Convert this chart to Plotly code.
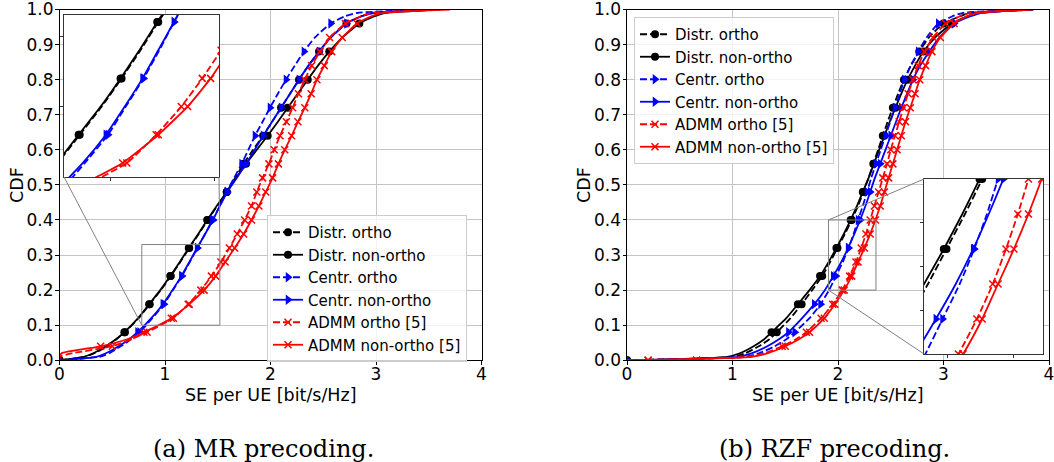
import plotly.graph_objects as go

W, H = 1054, 462

# ---------------- data ----------------
Y_LEVELS = [0, 0.01, 0.02, 0.04, 0.06, 0.08, 0.12, 0.16, 0.20, 0.24, 0.28, 0.32, 0.36, 0.40,
            0.44, 0.48, 0.52, 0.56, 0.60, 0.64, 0.68, 0.72, 0.76, 0.80, 0.84, 0.88, 0.92,
            0.96, 0.98, 0.99, 1.0]

SERIES_NAMES = ["Distr. ortho", "Distr. non-ortho", "Centr. ortho", "Centr. non-ortho",
                "ADMM ortho [5]", "ADMM non-ortho [5]"]

# (a) MR precoding: SE values at each CDF level
MR_DISTR_ORTHO = [0.0, 0.24, 0.33, 0.45, 0.54, 0.62, 0.75, 0.855, 0.96, 1.055, 1.145, 1.23, 1.32,
                  1.405, 1.495, 1.585, 1.665, 1.745, 1.835, 1.93, 2.015, 2.10, 2.185, 2.27, 2.36,
                  2.46, 2.57, 2.72, 2.85, 2.97, 3.6]
MR_DISTR_NONORTHO = [0.0, 0.23, 0.32, 0.44, 0.535, 0.615, 0.745, 0.85, 0.955, 1.05, 1.14, 1.225,
                     1.315, 1.40, 1.49, 1.585, 1.675, 1.768, 1.87, 1.973, 2.07, 2.163, 2.258,
                     2.353, 2.45, 2.557, 2.68, 2.842, 2.98, 3.08, 3.6]
MR_CENTR_ORTHO = [0.0, 0.38, 0.47, 0.58, 0.68, 0.76, 0.88, 0.99, 1.075, 1.16, 1.235, 1.305, 1.38,
                  1.45, 1.52, 1.585, 1.655, 1.727, 1.79, 1.853, 1.925, 1.995, 2.07, 2.147, 2.23,
                  2.317, 2.42, 2.57, 2.70, 2.82, 3.5]
MR_CENTR_NONORTHO = [0.0, 0.35, 0.44, 0.56, 0.66, 0.74, 0.87, 0.98, 1.07, 1.155, 1.23, 1.305, 1.38,
                     1.455, 1.52, 1.59, 1.68, 1.768, 1.85, 1.93, 2.015, 2.10, 2.185, 2.27, 2.36,
                     2.46, 2.57, 2.72, 2.86, 2.97, 3.55]
MR_ADMM_ORTHO = [0.0, 0.0, 0.12, 0.50, 0.68, 0.83, 1.08, 1.22, 1.34, 1.44, 1.53, 1.61, 1.685,
                 1.755, 1.82, 1.87, 1.925, 1.985, 2.035, 2.09, 2.15, 2.21, 2.265, 2.325, 2.39,
                 2.47, 2.56, 2.71, 2.85, 2.95, 3.6]
MR_ADMM_NONORTHO = [0.0, 0.0, 0.02, 0.39, 0.64, 0.80, 1.06, 1.23, 1.37, 1.48, 1.57, 1.66, 1.745,
                    1.82, 1.89, 1.955, 2.02, 2.075, 2.135, 2.2, 2.26, 2.325, 2.385, 2.44, 2.51,
                    2.58, 2.68, 2.82, 2.95, 3.05, 3.7]

# (b) RZF precoding
RZF_DISTR_ORTHO = [0.0, 1.0, 1.12, 1.25, 1.35, 1.42, 1.55, 1.655, 1.755, 1.85, 1.925, 1.995, 2.065,
                   2.13, 2.19, 2.24, 2.29, 2.335, 2.38, 2.425, 2.47, 2.52, 2.57, 2.625, 2.69, 2.77,
                   2.86, 3.0, 3.15, 3.25, 3.8]
RZF_DISTR_NONORTHO = [0.0, 0.95, 1.07, 1.2, 1.3, 1.37, 1.51, 1.62, 1.73, 1.83, 1.91, 1.985, 2.055,
                      2.12, 2.18, 2.235, 2.29, 2.34, 2.39, 2.44, 2.49, 2.545, 2.6, 2.66, 2.73,
                      2.81, 2.92, 3.08, 3.22, 3.33, 3.85]
RZF_CENTR_ORTHO = [0.0, 1.12, 1.25, 1.40, 1.51, 1.59, 1.73, 1.835, 1.915, 1.98, 2.045, 2.10, 2.148,
                   2.19, 2.235, 2.275, 2.315, 2.36, 2.405, 2.45, 2.495, 2.54, 2.585, 2.63, 2.69,
                   2.76, 2.84, 2.95, 3.08, 3.18, 3.75]
RZF_CENTR_NONORTHO = [0.0, 1.05, 1.18, 1.33, 1.44, 1.53, 1.66, 1.775, 1.875, 1.955, 2.03, 2.096,
                      2.155, 2.21, 2.26, 2.305, 2.35, 2.40, 2.45, 2.50, 2.55, 2.60, 2.655, 2.71,
                      2.78, 2.865, 2.96, 3.1, 3.25, 3.35, 3.85]
RZF_ADMM_ORTHO = [0.0, 1.15, 1.3, 1.47, 1.6, 1.7, 1.84, 1.95, 2.04, 2.11, 2.17, 2.22, 2.265, 2.305,
                  2.345, 2.385, 2.425, 2.465, 2.50, 2.54, 2.58, 2.62, 2.665, 2.71, 2.76, 2.82,
                  2.9, 3.02, 3.15, 3.25, 3.8]
RZF_ADMM_NONORTHO = [0.0, 1.18, 1.33, 1.5, 1.63, 1.73, 1.87, 1.97, 2.058, 2.13, 2.19, 2.25, 2.305,
                     2.355, 2.40, 2.44, 2.48, 2.52, 2.56, 2.60, 2.64, 2.685, 2.73, 2.775, 2.83,
                     2.89, 2.97, 3.1, 3.22, 3.32, 3.85]
RZF_ADMM_TAIL_X = [0.2, 0.66]   # x-markers lying on the zero line
RZF_ADMM_TAIL_Y = [0.0, 0.0]

X_TICKS = [0, 1, 2, 3, 4]
Y_TICKS = [0.0, 0.1, 0.2, 0.3, 0.4, 0.5, 0.6, 0.7, 0.8, 0.9, 1.0]
CAPTIONS = ["(a) MR precoding.", "(b) RZF precoding."]
X_TITLE = "SE per UE [bit/s/Hz]"
Y_TITLE = "CDF"

# zoom regions (data coords)
LEFT_ZOOM_X, LEFT_ZOOM_Y = [0.78, 1.52], [0.1, 0.33]
RIGHT_ZOOM_X, RIGHT_ZOOM_Y = [1.91, 2.36], [0.2, 0.4]

# ---------------- layout geometry (pixels) ----------------
LEFT_PX = (59.5, 481.5)
RIGHT_PX = (627.0, 1049.0)
MAIN_PY = (9.5, 360.3)
LEFT_INSET = (64.0, 219.0, 15.0, 177.0)
RIGHT_INSET = (924.0, 1043.0, 179.0, 354.0)


def fx(p):
    return p / W


def fy(p):
    return 1 - p / H


FONT = "DejaVu Sans"
DASH = "7px,3px"
STYLES = [
    dict(color="black", dash=DASH, symbol="circle", size=8),
    dict(color="black", dash="solid", symbol="circle", size=8),
    dict(color="blue", dash=DASH, symbol="triangle-right", size=9),
    dict(color="blue", dash="solid", symbol="triangle-right", size=9),
    dict(color="red", dash=DASH, symbol="x-thin", size=7),
    dict(color="red", dash="solid", symbol="x-thin", size=7),
]
DOT_IDX = [0] + list(range(5, 28, 2))
X_IDX = [3] + list(range(5, 28))


def marker_dict(st):
    if st["symbol"] == "x-thin":
        return dict(symbol="x-thin", size=st["size"], line=dict(width=1.5, color=st["color"]))
    return dict(symbol=st["symbol"], size=st["size"], color=st["color"], line=dict(width=0))


fig = go.Figure()

MR = [MR_DISTR_ORTHO, MR_DISTR_NONORTHO, MR_CENTR_ORTHO, MR_CENTR_NONORTHO, MR_ADMM_ORTHO,
      MR_ADMM_NONORTHO]
RZF = [RZF_DISTR_ORTHO, RZF_DISTR_NONORTHO, RZF_CENTR_ORTHO, RZF_CENTR_NONORTHO, RZF_ADMM_ORTHO,
       RZF_ADMM_NONORTHO]


def add_curve(xs, st, idx, xa, ya, tail_x=(), tail_y=()):
    fig.add_trace(go.Scatter(
        x=xs, y=Y_LEVELS, mode="lines", xaxis=xa, yaxis=ya, showlegend=False, hoverinfo="skip",
        line=dict(color=st["color"], width=1.8, dash=st["dash"], shape="spline", smoothing=0.5)))
    fig.add_trace(go.Scatter(
        x=list(tail_x) + [xs[i] for i in idx], y=list(tail_y) + [Y_LEVELS[i] for i in idx],
        mode="markers", xaxis=xa, yaxis=ya, showlegend=False, hoverinfo="skip",
        marker=marker_dict(st), cliponaxis=True))


for panel, (data, axes_list) in enumerate([(MR, [("x", "y"), ("x3", "y3")]),
                                          (RZF, [("x2", "y2"), ("x4", "y4")])]):
    for xa, ya in axes_list:
        for k, xs in enumerate(data):
            st = STYLES[k]
            idx = X_IDX if k >= 4 else DOT_IDX
            if panel == 1 and k >= 4:
                add_curve(xs, st, idx, xa, ya, RZF_ADMM_TAIL_X, RZF_ADMM_TAIL_Y)
            else:
                add_curve(xs, st, idx, xa, ya)

# legend entries
for leg, (xa, ya) in [("legend", ("x", "y")), ("legend2", ("x2", "y2"))]:
    for k, name in enumerate(SERIES_NAMES):
        st = STYLES[k]
        fig.add_trace(go.Scatter(
            x=[None], y=[None], name=name, mode="lines+markers", xaxis=xa, yaxis=ya, legend=leg,
            line=dict(color=st["color"], width=1.8, dash=st["dash"]), marker=marker_dict(st)))

main_y_dom = [fy(MAIN_PY[1]), fy(MAIN_PY[0])]
common_main = dict(showgrid=True, gridcolor="#c4c4c4", gridwidth=1, zeroline=False,
                   showline=True, linecolor="black", linewidth=1, mirror=True,
                   ticks="outside", ticklen=3.5, tickcolor="black", ticklabeloverflow="allow",
                   automargin=False, tickfont=dict(family=FONT, size=17, color="black"))
inset_common = dict(showgrid=False, zeroline=False, showline=True, linecolor="#333333",
                    linewidth=1, mirror=True, ticks="outside", ticklen=3, tickcolor="#333333",
                    showticklabels=False, automargin=False)

fig.update_layout(
    width=W, height=H, margin=dict(l=0, r=0, t=0, b=0, pad=0, autoexpand=False),
    paper_bgcolor="white", plot_bgcolor="white",
    font=dict(family=FONT, color="black"),
    xaxis=dict(domain=[fx(LEFT_PX[0]), fx(LEFT_PX[1])], range=[0, 4], tickvals=X_TICKS,
               anchor="y", ticklabelstandoff=-5, **common_main),
    yaxis=dict(domain=main_y_dom, range=[0, 1], tickvals=Y_TICKS, tickformat=".1f",
               anchor="x", ticklabelstandoff=-2, **common_main),
    xaxis2=dict(domain=[fx(RIGHT_PX[0]), fx(RIGHT_PX[1])], range=[0, 4], tickvals=X_TICKS,
                anchor="y2", ticklabelstandoff=-5, **common_main),
    yaxis2=dict(domain=main_y_dom, range=[0, 1], tickvals=Y_TICKS, tickformat=".1f",
                anchor="x2", ticklabelstandoff=-2, **common_main),
    xaxis3=dict(domain=[fx(LEFT_INSET[0]), fx(LEFT_INSET[1])], range=LEFT_ZOOM_X,
                tickvals=[1.0, 1.5], anchor="y3", **inset_common),
    yaxis3=dict(domain=[fy(LEFT_INSET[3]), fy(LEFT_INSET[2])], range=LEFT_ZOOM_Y,
                tickvals=[0.2, 0.3], anchor="x3", **inset_common),
    xaxis4=dict(domain=[fx(RIGHT_INSET[0]), fx(RIGHT_INSET[1])], range=RIGHT_ZOOM_X,
                tickvals=[2.0, 2.25], anchor="y4", **inset_common),
    yaxis4=dict(domain=[fy(RIGHT_INSET[3]), fy(RIGHT_INSET[2])], range=RIGHT_ZOOM_Y,
                tickvals=[0.25, 0.3, 0.35], anchor="x4", **inset_common),
    legend=dict(x=fx(267), y=fy(215), xanchor="left", yanchor="top",
                bgcolor="rgba(255,255,255,0.8)", bordercolor="#cccccc", borderwidth=1,
                font=dict(family=FONT, size=15, color="black"), tracegroupgap=0),
    legend2=dict(x=fx(634), y=fy(17), xanchor="left", yanchor="top",
                 bgcolor="rgba(255,255,255,0.8)", bordercolor="#cccccc", borderwidth=1,
                 font=dict(family=FONT, size=15, color="black"), tracegroupgap=0),
)


# zoom rectangles and connector lines
def to_paper(v, rng, dom_px, is_x):
    lo, hi = dom_px
    if is_x:
        p = lo + (v - rng[0]) / (rng[1] - rng[0]) * (hi - lo)
        return fx(p)
    p = hi - (v - rng[0]) / (rng[1] - rng[0]) * (hi - lo)
    return fy(p)


GRAY = "#808080"
shapes = []
for xa, ya, zx, zy, px_rng, inset in [("x", "y", LEFT_ZOOM_X, LEFT_ZOOM_Y, LEFT_PX, LEFT_INSET),
                                       ("x2", "y2", RIGHT_ZOOM_X, RIGHT_ZOOM_Y, RIGHT_PX, RIGHT_INSET)]:
    shapes.append(dict(type="rect", xref=xa, yref=ya, x0=zx[0], x1=zx[1], y0=zy[0], y1=zy[1],
                       line=dict(color=GRAY, width=1), layer="above"))
    if xa == "x":
        pairs = [((zx[0], zy[0]), (inset[0], inset[3])), ((zx[1], zy[1]), (inset[1], inset[3]))]
    else:
        pairs = [((zx[0], zy[1]), (inset[0], inset[2])), ((zx[0], zy[0]), (inset[0], inset[3]))]
    for (dx, dy), (ipx, ipy) in pairs:
        shapes.append(dict(type="line", xref="paper", yref="paper",
                           x0=to_paper(dx, [0, 4], px_rng, True),
                           y0=to_paper(dy, [0, 1], MAIN_PY, False),
                           x1=fx(ipx), y1=fy(ipy), line=dict(color=GRAY, width=1), layer="above"))
fig.update_layout(shapes=shapes)

ann = []
for i, (lo, hi) in enumerate([LEFT_PX, RIGHT_PX]):
    ann.append(dict(text=X_TITLE, x=fx((lo + hi) / 2), y=fy(395), xref="paper", yref="paper",
                    showarrow=False, xanchor="center", yanchor="middle",
                    font=dict(family=FONT, size=17.5, color="black")))
    ann.append(dict(text=Y_TITLE, x=fx(17 if i == 0 else 584), y=fy((MAIN_PY[0] + MAIN_PY[1]) / 2),
                    xref="paper", yref="paper", showarrow=False, textangle=-90,
                    xanchor="center", yanchor="middle",
                    font=dict(family=FONT, size=17.5, color="black")))
    ann.append(dict(text=CAPTIONS[i], x=fx(263.5 if i == 0 else 834.5), y=fy(449),
                    xref="paper", yref="paper", showarrow=False, xanchor="center",
                    yanchor="middle", font=dict(family="DejaVu Serif", size=24, color="black")))
fig.update_layout(annotations=ann)

fig.write_html("out.html")
